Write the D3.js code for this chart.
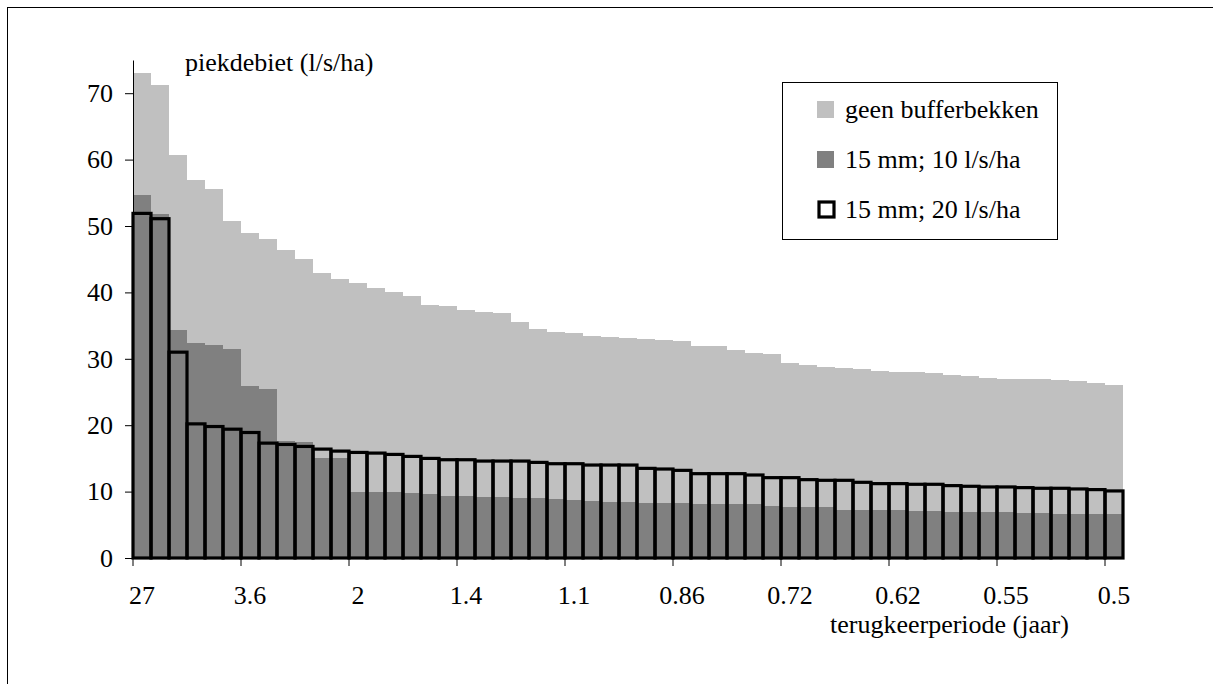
<!DOCTYPE html>
<html>
<head>
<meta charset="utf-8">
<script src="https://cdn.jsdelivr.net/npm/d3@7"></script>
<style>
  html, body { margin: 0; padding: 0; background: #fff; }
</style>
</head>
<body>
<div id="chart"></div>
<script>
// peak discharge per event, sorted from largest to smallest
const geenBuffer = [73.1, 71.2, 60.7, 56.9, 55.6, 50.8, 48.9, 48.1, 46.4, 45.1,
  42.9, 42.0, 41.4, 40.6, 40.0, 39.5, 38.1, 37.9, 37.3, 37.1,
  36.9, 35.5, 34.5, 34.1, 33.9, 33.5, 33.3, 33.1, 33.0, 32.9,
  32.7, 32.0, 31.9, 31.4, 30.8, 30.7, 29.3, 29.1, 28.8, 28.6,
  28.4, 28.2, 28.0, 28.0, 27.8, 27.6, 27.4, 27.1, 27.0, 27.0,
  26.9, 26.8, 26.6, 26.4, 26.0];
const buffer10 = [54.6, 51.8, 34.3, 32.4, 32.1, 31.5, 25.9, 25.4, 17.6, 17.5,
  15.1, 15.1, 10.0, 10.0, 9.9, 9.8, 9.6, 9.3, 9.3, 9.2,
  9.2, 9.0, 9.0, 8.9, 8.7, 8.6, 8.4, 8.4, 8.3, 8.3,
  8.3, 8.1, 8.1, 8.1, 8.1, 7.8, 7.7, 7.7, 7.7, 7.2,
  7.2, 7.2, 7.2, 7.1, 7.1, 6.9, 6.9, 6.9, 6.9, 6.8,
  6.8, 6.7, 6.7, 6.6, 6.6];
const buffer20 = [51.9, 51.1, 31.0, 20.2, 19.8, 19.4, 18.9, 17.3, 17.1, 16.8,
  16.4, 16.1, 15.9, 15.8, 15.6, 15.3, 15.0, 14.8, 14.8, 14.6,
  14.6, 14.6, 14.4, 14.2, 14.2, 14.0, 14.0, 14.0, 13.5, 13.4,
  13.2, 12.7, 12.7, 12.7, 12.5, 12.1, 12.1, 11.8, 11.7, 11.7,
  11.4, 11.2, 11.2, 11.1, 11.1, 10.9, 10.8, 10.7, 10.7, 10.6,
  10.5, 10.5, 10.4, 10.3, 10.1];

// return period labels, shown on every 6th event
const tickEvery = 6;
const returnPeriods = ["27", "3.6", "2", "1.4", "1.1", "0.86", "0.72", "0.62", "0.55", "0.5"];
const yTicks = [0, 10, 20, 30, 40, 50, 60, 70];

const legendItems = [
  { label: "geen bufferbekken", type: "light" },
  { label: "15 mm; 10 l/s/ha", type: "dark" },
  { label: "15 mm; 20 l/s/ha", type: "outline" }
];

const width = 1213, height = 684;
const margin = { left: 133, top: 60, bottom: 684 - 558 };
const barW = 18;
const n = geenBuffer.length;

const LIGHT = "#c0c0c0", DARK = "#808080";
const FONT = "'Liberation Serif', 'Times New Roman', 'DejaVu Serif', serif";
const FS = "26px";

const svg = d3.select("#chart").append("svg")
  .attr("width", width)
  .attr("height", height);

// outer frame (runs off the picture on the right and bottom)
svg.append("rect")
  .attr("x", 7.5).attr("y", 7.5)
  .attr("width", 1300).attr("height", 800)
  .attr("fill", "none").attr("stroke", "#000").attr("stroke-width", 1);

const x = d3.scaleBand()
  .domain(d3.range(n))
  .range([margin.left, margin.left + n * barW])
  .padding(0);

const y = d3.scaleLinear()
  .domain([0, 75])
  .range([height - margin.bottom, margin.top]);

const g = svg.append("g");

// light bars
g.append("g").selectAll("rect")
  .data(geenBuffer)
  .join("rect")
  .attr("x", (d, i) => x(i))
  .attr("y", d => y(d))
  .attr("width", x.bandwidth())
  .attr("height", d => y(0) - y(d))
  .attr("fill", LIGHT)
  .attr("shape-rendering", "crispEdges");

// dark bars
g.append("g").selectAll("rect")
  .data(buffer10)
  .join("rect")
  .attr("x", (d, i) => x(i))
  .attr("y", d => y(d))
  .attr("width", x.bandwidth())
  .attr("height", d => y(0) - y(d))
  .attr("fill", DARK)
  .attr("shape-rendering", "crispEdges");

// y axis
const yAxis = svg.append("g")
  .attr("transform", `translate(${margin.left},0)`)
  .call(d3.axisLeft(y).tickValues(yTicks).tickSize(8).tickSizeOuter(0).tickPadding(12));
yAxis.attr("font-family", null).attr("font-size", null);
yAxis.selectAll("text").style("font-family", FONT).style("font-size", FS);
yAxis.selectAll("line, path").attr("stroke", "#000");

// x axis: labels centred on categories
const labelIdx = d3.range(0, n, tickEvery);
const xAxis = svg.append("g")
  .attr("transform", `translate(0,${y(0)})`)
  .call(d3.axisBottom(x)
    .tickValues(labelIdx)
    .tickFormat((d, i) => returnPeriods[i])
    .tickSize(0)
    .tickSizeOuter(0)
    .tickPadding(28));
xAxis.attr("font-family", null).attr("font-size", null);
xAxis.selectAll("text").style("font-family", FONT).style("font-size", FS);
xAxis.select("path").attr("stroke", "#000");

// x tick marks on category boundaries
svg.append("g").selectAll("line")
  .data(labelIdx)
  .join("line")
  .attr("x1", d => x(d)).attr("x2", d => x(d))
  .attr("y1", y(0)).attr("y2", y(0) + 8)
  .attr("stroke", "#000");

// outlined bars
g.append("g").selectAll("rect")
  .data(buffer20)
  .join("rect")
  .attr("x", (d, i) => x(i))
  .attr("y", d => y(d))
  .attr("width", x.bandwidth())
  .attr("height", d => y(0) - y(d))
  .attr("fill", "none")
  .attr("stroke", "#000")
  .attr("stroke-width", 3.2);

// axis titles
svg.append("text")
  .attr("x", 185).attr("y", 71)
  .style("font-family", FONT).style("font-size", FS)
  .text("piekdebiet (l/s/ha)");

svg.append("text")
  .attr("x", 830).attr("y", 633)
  .style("font-family", FONT).style("font-size", FS)
  .text("terugkeerperiode (jaar)");

// legend
const legend = svg.append("g");
legend.append("rect")
  .attr("x", 782.5).attr("y", 82.5)
  .attr("width", 275).attr("height", 157)
  .attr("fill", "#fff").attr("stroke", "#000").attr("stroke-width", 1);

const row = legend.selectAll("g.item")
  .data(legendItems)
  .join("g")
  .attr("class", "item")
  .attr("transform", (d, i) => `translate(0,${118 + i * 50})`);

row.append("rect")
  .attr("x", d => d.type === "outline" ? 819 : 817)
  .attr("y", d => d.type === "outline" ? -16 : -17)
  .attr("width", d => d.type === "outline" ? 15 : 17)
  .attr("height", d => d.type === "outline" ? 15 : 17)
  .attr("fill", d => d.type === "light" ? LIGHT : d.type === "dark" ? DARK : "#fff")
  .attr("stroke", d => d.type === "outline" ? "#000" : "none")
  .attr("stroke-width", 3.2);

row.append("text")
  .attr("x", 845).attr("y", 0)
  .style("font-family", FONT).style("font-size", FS)
  .text(d => d.label);
</script>
</body>
</html>
